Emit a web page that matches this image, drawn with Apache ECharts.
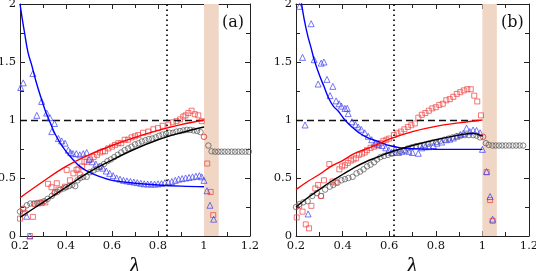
<!DOCTYPE html>
<html><head><meta charset="utf-8">
<script src="https://cdn.jsdelivr.net/npm/echarts@6/dist/echarts.min.js"></script>
<style>html,body{margin:0;padding:0;background:#fff}#c{width:536px;height:271px}</style>
</head><body><div id="c"></div>
<script>
// ---------- Panel (a) ----------
const triA = [[0.203,1.28],[0.214,1.32],[0.256,1.40],[0.294,1.16],[0.273,1.04],[0.316,1.06],[0.33,1.02],[0.350,0.97],[0.338,0.90],[0.367,0.84],[0.381,0.82],[0.396,0.80],[0.41,0.74],[0.42,0.72],[0.43,0.71],[0.445,0.71],[0.46,0.70],[0.475,0.71],[0.49,0.72],[0.50,0.66],[0.515,0.64],[0.53,0.62],[0.545,0.60],[0.56,0.585],[0.575,0.56],[0.59,0.54],[0.605,0.52],[0.62,0.50],[0.635,0.49],[0.65,0.48],[0.665,0.475],[0.68,0.47],[0.695,0.465],[0.71,0.46],[0.725,0.455],[0.74,0.45],[0.755,0.448],[0.77,0.448],[0.785,0.447],[0.80,0.45],[0.815,0.452],[0.83,0.46],[0.845,0.465],[0.86,0.47],[0.875,0.48],[0.89,0.49],[0.905,0.495],[0.92,0.50],[0.935,0.505],[0.95,0.51],[0.965,0.515],[0.98,0.52],[0.99,0.51],[1.0,0.48],[1.013,0.39],[1.026,0.265],[1.042,0.145],[0.229,0.17],[0.243,0.0]];
const sqA = [[0.2,0.15],[0.214,0.23],[0.22,0.20],[0.256,0.165],[0.265,0.275],[0.28,0.28],[0.295,0.285],[0.31,0.29],[0.322,0.45],[0.337,0.42],[0.352,0.38],[0.36,0.455],[0.367,0.40],[0.396,0.425],[0.403,0.57],[0.417,0.48],[0.432,0.54],[0.446,0.57],[0.454,0.58],[0.46,0.53],[0.47,0.60],[0.48,0.64],[0.49,0.64],[0.505,0.66],[0.52,0.68],[0.535,0.70],[0.548,0.72],[0.56,0.73],[0.57,0.73],[0.584,0.755],[0.60,0.77],[0.613,0.785],[0.627,0.80],[0.64,0.80],[0.655,0.83],[0.67,0.83],[0.685,0.85],[0.70,0.86],[0.714,0.87],[0.735,0.89],[0.758,0.90],[0.78,0.92],[0.80,0.93],[0.82,0.95],[0.845,0.96],[0.865,0.98],[0.88,0.99],[0.896,1.005],[0.91,1.03],[0.92,1.04],[0.932,1.06],[0.946,1.08],[0.96,1.05],[0.975,1.04],[0.99,0.99],[1.014,0.625],[1.029,0.38],[1.04,0.18],[0.243,0.0]];
const circA = [[0.2,0.21],[0.213,0.235],[0.23,0.265],[0.245,0.28],[0.26,0.28],[0.275,0.285],[0.29,0.29],[0.305,0.30],[0.32,0.32],[0.338,0.345],[0.35,0.37],[0.362,0.38],[0.375,0.40],[0.39,0.41],[0.40,0.42],[0.413,0.43],[0.427,0.44],[0.44,0.43],[0.45,0.48],[0.462,0.50],[0.475,0.51],[0.49,0.51],[0.505,0.55],[0.52,0.565],[0.535,0.58],[0.55,0.60],[0.565,0.62],[0.58,0.645],[0.595,0.66],[0.61,0.68],[0.625,0.70],[0.64,0.72],[0.655,0.74],[0.67,0.755],[0.685,0.77],[0.70,0.79],[0.715,0.80],[0.73,0.815],[0.745,0.825],[0.76,0.835],[0.775,0.84],[0.79,0.85],[0.805,0.865],[0.82,0.875],[0.835,0.88],[0.85,0.89],[0.865,0.89],[0.88,0.90],[0.895,0.905],[0.91,0.91],[0.925,0.915],[0.94,0.915],[0.955,0.91],[0.97,0.905],[0.985,0.895],[1.019,0.78],[1.033,0.73],[1.048,0.727],[1.062,0.727],[1.076,0.727],[1.09,0.727],[1.105,0.727],[1.12,0.727],[1.135,0.727],[1.15,0.727],[1.165,0.727],[1.18,0.727],[1.195,0.727]];
const redCircA = [[1.0,0.855]];
const blueLineA = [[0.2,2.0],[0.21,1.87],[0.22,1.75],[0.235,1.58],[0.25,1.48],[0.27,1.33],[0.29,1.20],[0.31,1.08],[0.32,1.03],[0.335,0.96],[0.35,0.89],[0.375,0.80],[0.40,0.73],[0.43,0.66],[0.46,0.60],[0.50,0.55],[0.55,0.51],[0.60,0.48],[0.70,0.455],[0.80,0.44],[0.90,0.43],[1.0,0.425]];
const redLineA = [[0.2,0.33],[0.3,0.47],[0.4,0.6],[0.5,0.7],[0.6,0.78],[0.7,0.85],[0.8,0.91],[0.9,0.96],[1.0,1.0]];
const blackLineA = [[0.2,0.16],[0.3,0.29],[0.4,0.42],[0.5,0.55],[0.6,0.655],[0.7,0.75],[0.8,0.83],[0.9,0.89],[1.0,0.94]];
const dotXA = 0.84;
const bandA = [1.0, 1.064];

// ---------- Panel (b) ----------
const triB = [[0.215,1.98],[0.265,1.83],[0.228,1.54],[0.278,1.52],[0.308,1.49],[0.32,1.50],[0.295,1.31],[0.333,1.35],[0.346,1.21],[0.358,1.29],[0.372,1.165],[0.385,1.14],[0.395,1.12],[0.41,1.10],[0.42,1.10],[0.424,1.055],[0.239,0.957],[0.44,0.985],[0.455,0.96],[0.467,0.94],[0.48,0.92],[0.495,0.89],[0.51,0.86],[0.525,0.83],[0.54,0.80],[0.555,0.79],[0.57,0.78],[0.585,0.76],[0.598,0.74],[0.61,0.72],[0.625,0.75],[0.64,0.72],[0.655,0.73],[0.67,0.74],[0.685,0.73],[0.70,0.72],[0.725,0.713],[0.74,0.76],[0.755,0.77],[0.77,0.77],[0.79,0.78],[0.805,0.80],[0.825,0.81],[0.845,0.83],[0.86,0.835],[0.875,0.845],[0.89,0.86],[0.905,0.875],[0.918,0.885],[0.932,0.93],[0.946,0.90],[0.96,0.914],[0.975,0.91],[0.99,0.89],[1.0,0.747],[1.018,0.555],[1.033,0.34],[1.044,0.145],[0.252,0.19]];
const sqB = [[0.203,0.16],[0.214,0.26],[0.228,0.21],[0.242,0.10],[0.256,0.066],[0.266,0.26],[0.283,0.41],[0.295,0.44],[0.308,0.345],[0.32,0.48],[0.343,0.62],[0.357,0.47],[0.37,0.46],[0.386,0.575],[0.398,0.60],[0.41,0.61],[0.422,0.63],[0.435,0.65],[0.447,0.66],[0.458,0.67],[0.47,0.70],[0.483,0.71],[0.495,0.72],[0.505,0.74],[0.52,0.76],[0.535,0.77],[0.548,0.78],[0.562,0.80],[0.575,0.82],[0.588,0.83],[0.60,0.84],[0.62,0.87],[0.635,0.885],[0.65,0.90],[0.665,0.92],[0.68,0.94],[0.695,0.955],[0.71,0.97],[0.725,1.02],[0.74,1.045],[0.755,1.06],[0.77,1.08],[0.785,1.10],[0.80,1.11],[0.815,1.13],[0.83,1.14],[0.845,1.17],[0.86,1.18],[0.875,1.20],[0.89,1.225],[0.905,1.24],[0.92,1.255],[0.935,1.265],[0.95,1.265],[0.965,1.21],[0.978,1.16],[0.994,1.04],[1.018,0.55],[1.033,0.31],[1.044,0.13]];
const circB = [[0.2,0.25],[0.214,0.275],[0.231,0.29],[0.25,0.30],[0.27,0.345],[0.29,0.37],[0.307,0.345],[0.325,0.40],[0.345,0.425],[0.36,0.44],[0.378,0.46],[0.395,0.48],[0.41,0.49],[0.425,0.50],[0.443,0.51],[0.46,0.54],[0.475,0.555],[0.49,0.575],[0.505,0.60],[0.52,0.615],[0.535,0.635],[0.548,0.66],[0.562,0.68],[0.578,0.69],[0.595,0.70],[0.612,0.71],[0.628,0.72],[0.645,0.73],[0.662,0.74],[0.68,0.755],[0.697,0.765],[0.715,0.775],[0.732,0.78],[0.75,0.785],[0.768,0.795],[0.785,0.805],[0.802,0.81],[0.82,0.82],[0.837,0.83],[0.855,0.84],[0.872,0.85],[0.89,0.86],[0.907,0.865],[0.925,0.87],[0.942,0.87],[0.96,0.87],[0.975,0.865],[0.99,0.85],[1.015,0.80],[1.027,0.785],[1.043,0.78],[1.057,0.78],[1.071,0.78],[1.085,0.78],[1.1,0.78],[1.115,0.78],[1.13,0.78],[1.145,0.78],[1.16,0.78],[1.175,0.78]];
const redCircB = [[1.003,0.855]];
const blueLineB = [[0.22,2.05],[0.235,1.87],[0.25,1.73],[0.265,1.62],[0.278,1.52],[0.30,1.39],[0.32,1.29],[0.34,1.19],[0.36,1.12],[0.38,1.08],[0.395,1.04],[0.41,1.0],[0.44,0.94],[0.47,0.89],[0.50,0.855],[0.53,0.83],[0.56,0.81],[0.60,0.78],[0.65,0.76],[0.70,0.752],[0.80,0.748],[0.90,0.747],[1.0,0.747]];
const redLineB = [[0.2,0.40],[0.25,0.47],[0.3,0.53],[0.35,0.60],[0.4,0.65],[0.45,0.71],[0.5,0.75],[0.55,0.79],[0.6,0.835],[0.7,0.90],[0.8,0.945],[0.9,0.975],[1.0,1.0]];
const blackLineB = [[0.2,0.25],[0.25,0.33],[0.3,0.40],[0.35,0.47],[0.4,0.53],[0.45,0.59],[0.5,0.64],[0.55,0.68],[0.6,0.72],[0.7,0.78],[0.8,0.83],[0.9,0.87],[0.96,0.885],[1.0,0.86]];
const dotXB = 0.618;
const bandB = [1.0, 1.062];

const refY = 1.0, refX0 = 0.2, refX1 = 1.0;
const xTicks = [0.2, 0.4, 0.6, 0.8, 1, 1.2];
const yTicks = [0, 0.5, 1, 1.5, 2];
const panelLabels = ['(a)', '(b)'];

const FONT = 'DejaVu Serif';
const chart = echarts.init(document.getElementById('c'), null, {renderer: 'canvas'});

function xAx(gi, top) {
  return {
    gridIndex: gi, type: 'value', position: top ? 'top' : 'bottom',
    min: xTicks[0], max: xTicks[xTicks.length - 1], interval: 0.2,
    axisLine: {show: true, onZero: false, lineStyle: {color: '#222', width: 1}},
    axisTick: {show: true, inside: true, length: 5, lineStyle: {color: '#222'}},
    minorTick: {show: true, splitNumber: 2, length: 4, lineStyle: {color: '#222'}},
    axisLabel: {show: !top, color: '#111', fontFamily: FONT, fontSize: 11.5, margin: 4,
      hideOverlap: false, showMinLabel: true, showMaxLabel: true,
      formatter: v => String(+v.toFixed(2))},
    splitLine: {show: false},
    name: top ? '' : 'λ', nameLocation: 'middle', nameGap: 10,
    nameTextStyle: {fontFamily: FONT, fontSize: 21, fontStyle: 'italic', color: '#111'}
  };
}
function yAx(gi, right) {
  return {
    gridIndex: gi, type: 'value', position: right ? 'right' : 'left',
    min: yTicks[0], max: yTicks[yTicks.length - 1], interval: 0.5,
    axisLine: {show: true, onZero: false, lineStyle: {color: '#222', width: 1}},
    axisTick: {show: true, inside: true, length: 5, lineStyle: {color: '#222'}},
    minorTick: {show: true, splitNumber: 2, length: 4, lineStyle: {color: '#222'}},
    axisLabel: {show: !right, color: '#111', fontFamily: FONT, fontSize: 11.5, margin: 4,
      hideOverlap: false, showMinLabel: true, showMaxLabel: true,
      formatter: v => String(+v.toFixed(2))},
    splitLine: {show: false}
  };
}

function panelSeries(p, d) {
  const xi = p * 2, yi = p * 2;
  const base = {xAxisIndex: xi, yAxisIndex: yi};
  const hollow = (c) => ({color: 'rgba(0,0,0,0)', borderColor: c, borderWidth: 0.9});
  return [
    Object.assign({type: 'line', data: [], silent: true, z: 1,
      markArea: {silent: true, itemStyle: {color: '#efd6c5'},
        data: [[{xAxis: d.band[0], yAxis: yTicks[0]}, {xAxis: d.band[1], yAxis: yTicks[yTicks.length-1]}]]},
      markLine: {silent: true, symbol: 'none', label: {show: false}, animation: false,
        data: [
          [{coord: [d.dotX, yTicks[0]], lineStyle: {type: [1.5, 3.5], width: 1.8, color: '#111'}},
           {coord: [d.dotX, yTicks[yTicks.length-1]]}],
          [{coord: [refX0, refY], lineStyle: {type: [7, 4], width: 1.3, color: '#111'}},
           {coord: [refX1, refY]}]
        ]}}, base),
    Object.assign({type: 'scatter', data: d.circ, symbol: 'circle', symbolSize: 5.5, clip: false,
      itemStyle: hollow('#555'), z: 3}, base),
    Object.assign({type: 'scatter', data: d.sq, symbol: 'rect', symbolSize: 5, clip: false,
      itemStyle: hollow('#f04040'), z: 4}, base),
    Object.assign({type: 'scatter', data: d.tri, symbol: 'triangle', symbolSize: 6, clip: false,
      itemStyle: hollow('#4040f0'), z: 5}, base),
    Object.assign({type: 'scatter', data: d.redCirc, symbol: 'circle', symbolSize: 5.5, clip: false,
      itemStyle: hollow('#e02020'), z: 5}, base),
    Object.assign({type: 'line', data: d.blue, smooth: 0.4, showSymbol: false, z: 6,
      lineStyle: {color: '#0000ff', width: 1.4}}, base),
    Object.assign({type: 'line', data: d.red, smooth: 0.4, showSymbol: false, z: 6,
      lineStyle: {color: '#ff0000', width: 1.4}}, base),
    Object.assign({type: 'line', data: d.black, smooth: 0.4, showSymbol: false, z: 6,
      lineStyle: {color: '#000000', width: 1.4}}, base)
  ];
}

const option = {
  animation: false,
  backgroundColor: '#fff',
  grid: [
    {left: 20, right: 286, top: 4, bottom: 35, containLabel: false, outerBoundsMode: 'none'},
    {left: 296, right: 7, top: 4, bottom: 35, containLabel: false, outerBoundsMode: 'none'}
  ],
  xAxis: [xAx(0, false), xAx(0, true), xAx(1, false), xAx(1, true)],
  yAxis: [yAx(0, false), yAx(0, true), yAx(1, false), yAx(1, true)],
  series: [].concat(
    panelSeries(0, {tri: triA, sq: sqA, circ: circA, redCirc: redCircA, blue: blueLineA, red: redLineA, black: blackLineA, dotX: dotXA, band: bandA}),
    panelSeries(1, {tri: triB, sq: sqB, circ: circB, redCirc: redCircB, blue: blueLineB, red: redLineB, black: blackLineB, dotX: dotXB, band: bandB})
  ),
  graphic: [
    {type: 'text', left: 222, top: 15, style: {text: panelLabels[0], font: '16px "DejaVu Serif"', fill: '#111'}},
    {type: 'text', left: 501, top: 15, style: {text: panelLabels[1], font: '16px "DejaVu Serif"', fill: '#111'}}
  ]
};
chart.setOption(option);
</script>
</body></html>
